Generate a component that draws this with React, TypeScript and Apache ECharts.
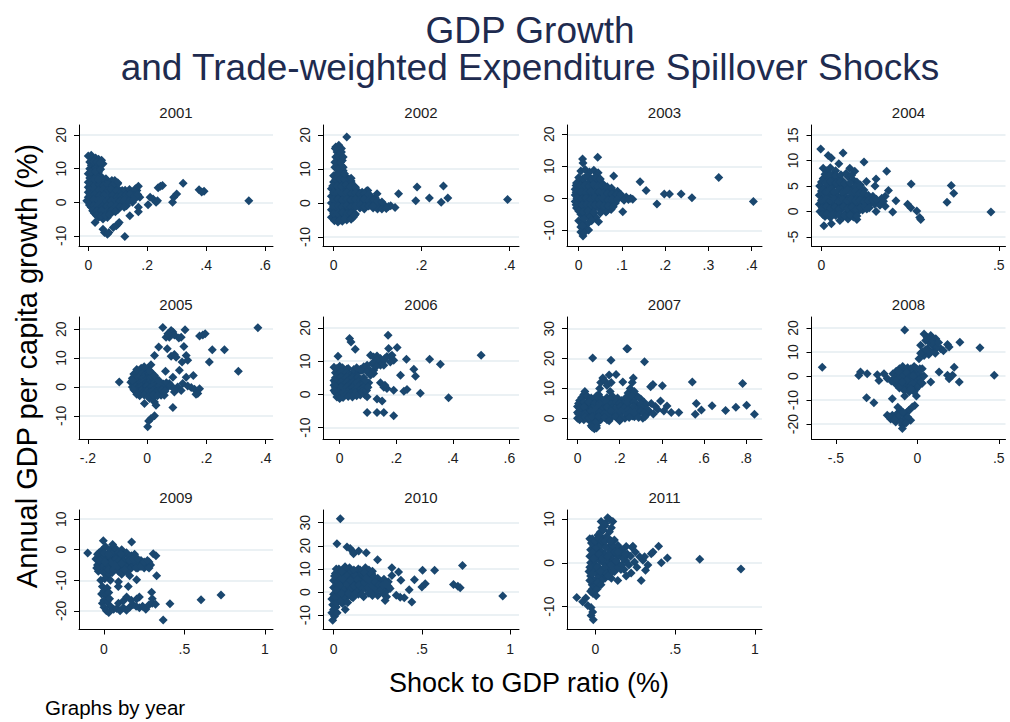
import React, { useEffect, useRef } from 'react';
import * as echarts from 'echarts';

const years = ['2001', '2002', '2003', '2004', '2005', '2006', '2007', '2008', '2009', '2010', '2011'];

const pts2001 = [
[0,13.8],[0.01,14],[0.015,13],[0.025,13.2],[0.035,12.8],[0.045,12.5],[0.05,11.5],[0.005,12],[0.01,11],[0.02,11.5],[0.03,11],[0.005,10],[0.015,9.5],[0.025,10],[0.035,9],[0,8.5],[0.01,8],[0.02,8.5],[0.03,7.8],[0.045,7.5],[0.06,7],[0.08,6.5],[0.09,6],[0.1,5.5],
[0,6],[0.015,6.2],[0.03,5.8],[0.045,6.5],[0.06,5.5],[0.075,5],[0.09,5.2],
[0,4.5],[0.012,4.2],[0.025,4.8],[0.04,4.4],[0.055,4],[0.07,4.3],[0.085,3.8],[0.1,4],[0.115,3.5],
[0,3],[0.015,2.8],[0.03,3.2],[0.045,2.6],[0.06,3],[0.075,2.5],[0.09,2.8],[0.105,2.2],[0.12,2.6],[0.135,3],[0.15,2.5],[0.165,3.5],[0.17,4.8],[0.16,4],
[0,1.5],[0.01,1.2],[0.025,1.6],[0.04,1],[0.055,1.4],[0.07,0.8],[0.085,1.2],[0.1,0.6],[0.115,1],[0.13,1.5],[0.145,1.8],[0.16,1.2],[0.175,1.5],
[-0.005,0.5],[0.01,0],[0.025,-0.3],[0.04,0.2],[0.055,-0.5],[0.07,0],[0.085,-0.3],[0.1,-0.8],[0.115,-0.5],[0.13,-1],[0.15,0],[0.17,-1.5],[0.17,-2.8],
[0.01,-1.5],[0.025,-2],[0.04,-1.8],[0.055,-2.5],[0.07,-2],[0.085,-1.5],[0.1,-2.2],
[0.02,-3.2],[0.035,-3.5],[0.05,-3],[0.065,-3.8],[0.08,-3],
[0.035,-4.5],[0.05,-5],[0.065,-4.5],[0.045,-4],
[0.023,-6],[0.05,-8],[0.055,-9],[0.065,-9.5],[0.07,-9],[0.085,-7.5],[0.095,-7],[0.1,-6.5],[0.105,-6],[0.124,-10.2],[0.141,-4],[0.203,-0.7],[0.21,1.5],[0.22,1],[0.23,0],[0.235,0.5],[0.237,4.3],[0.245,4.8],[0.252,5],[0.286,0],[0.29,1.5],[0.3,2.5],[0.322,5.7],[0.376,3.7],[0.393,3.3],[0.385,3.1],[0.545,0.5],[0.09,6.5],[0.1,5.8],
[0.008,5.3],[0.022,5.1],[0.038,5.3],[0.052,5.0],[0.068,5.4],[0.082,4.9],
[0.006,3.7],[0.02,3.9],[0.035,3.6],[0.05,3.8],[0.065,3.5],[0.078,3.9],[0.095,3.4],[0.11,3.0],[0.125,3.6],[0.14,3.8],[0.155,3.3],
[0.006,2.2],[0.022,2.3],[0.038,2.0],[0.052,2.2],[0.068,1.8],[0.082,2.1],[0.097,1.6],[0.112,1.9],[0.127,2.2],[0.142,2.4],[0.155,1.9],[0.168,2.3],
[0.004,0.7],[0.018,0.9],[0.032,0.5],[0.048,0.7],[0.063,0.3],[0.078,0.5],[0.093,0.2],[0.108,0.3],[0.122,0.6],[0.138,0.4],[0.155,0.8],
[0.004,-0.8],[0.018,-1.0],[0.032,-0.9],[0.048,-1.2],[0.063,-1.1],[0.078,-0.9],[0.093,-1.2],[0.108,-1.4],[0.122,-1.5],
[0.015,-2.5],[0.03,-2.6],[0.045,-2.4],[0.062,-2.9],[0.078,-2.5],[0.092,-2.8],
[0.028,-3.9],[0.042,-4.1],[0.058,-4.0],[0.072,-3.6],
[0.005,7.2],[0.02,7],[0.035,6.8],[0.008,9],[0.025,9.2],[0.018,12.2],[0.03,12],[0.04,11.8],[0.042,9.8]
];

const pts2002 = [
[0.005,16.5],[0.012,17],[0.018,16],[0.008,15],[0.015,14.5],[0.005,13.5],[0.012,13],[0.02,12.5],[0.008,11.5],[0.018,11],[0.003,10.5],[0.012,10],[0.022,9.5],
[0,8],[0.01,8.2],[0.02,7.8],[0.03,7.5],[0.035,7],[0.04,6.5],
[0,6.2],[0.01,5.8],[0.02,6],[0.03,5.5],[0.04,6],[0.045,5],
[-0.005,4.2],[0.005,3.8],[0.015,4],[0.025,4.4],[0.035,3.6],[0.045,4],[0.055,3.5],[0.065,3.2],[0.075,3.5],[0.078,3.7],
[-0.005,2],[0.005,2.4],[0.015,1.8],[0.025,2.2],[0.035,1.6],[0.045,2.4],[0.055,1.8],[0.065,2],[0.075,1.5],[0.085,2],[0.095,1.5],[0.099,2.7],
[-0.005,0],[0.005,0.4],[0.015,-0.3],[0.025,0.2],[0.035,-0.4],[0.045,0.3],[0.055,-0.2],[0.065,0.5],[0.075,-0.3],[0.085,0.2],[0.095,-0.5],[0.105,-0.8],[0.115,-0.5],[0.125,-1],[0.13,-0.8],[0.14,-1.3],
[-0.005,-2],[0.005,-1.6],[0.015,-2.2],[0.025,-1.8],[0.035,-2.4],[0.045,-1.8],[0.06,-1.5],[0.07,-1.8],[0.09,-1.5],[0.1,-1.8],[0.11,-1.8],
[-0.005,-4.2],[0.005,-3.8],[0.015,-4.4],[0.025,-3.6],[0.035,-4],[0.045,-4.2],
[0.002,-5.2],[0.01,-5.6],[0.02,-5.4],[0.03,-5],
[0.03,19.4],[0.148,2.7],[0.19,4.7],[0.187,0.7],[0.218,1.5],[0.25,5],[0.245,0.2],[0.26,1.5],[0.396,1.0],
[0.005,7],[0.015,7.1],[0.025,6.9],[0.04,7.3],
[-0.002,5],[0.008,5.1],[0.018,4.9],[0.028,5.2],[0.038,4.8],[0.05,4.6],
[0,3],[0.01,3.1],[0.02,2.9],[0.03,3.2],[0.04,2.8],[0.05,3],[0.06,2.7],[0.07,2.8],[0.08,2.6],
[0,1],[0.01,1.1],[0.02,0.9],[0.03,1.2],[0.04,0.8],[0.05,1.1],[0.06,0.9],[0.07,1.2],[0.08,0.8],[0.09,1],[0.1,0.6],[0.11,0.3],
[0,-1],[0.01,-0.9],[0.02,-1.2],[0.03,-0.8],[0.04,-1.1],[0.05,-0.9],[0.06,-0.6],[0.07,-1],[0.08,-0.9],[0.09,-0.8],[0.12,-1.6],
[0,-3],[0.01,-3.1],[0.02,-2.8],[0.03,-3.2],[0.04,-2.9],[0.05,-3.2],
[0.015,-5],[0.025,-4.6],[0.04,-4.8],[0.048,-3.6],
[0.003,12],[0.016,12],[0.022,13.5],[0.004,16],[0.018,15],[0.022,10.5],[0.01,9],[0.025,8.6]
];

const pts2003 = [
[0.009,12.3],[0.01,11],[0.044,12.8],[0.005,8.5],[0.015,9],[0.025,8.2],[0.035,8.8],[0.045,8],[0.02,7.2],[0.04,7],[0.081,7],
[-0.005,4.8],[0.005,5.2],[0.015,4.6],[0.025,5],[0.035,4.4],[0.045,5.2],[0.055,4.6],[0.06,3.8],
[-0.008,2.8],[0.002,3.2],[0.012,2.6],[0.022,3],[0.032,2.5],[0.042,3.2],[0.052,2.8],[0.062,2.2],[0.072,2.5],[0.082,1.8],[0.09,2.2],
[-0.008,1],[0.002,0.6],[0.012,1.2],[0.022,0.8],[0.032,1.4],[0.042,0.6],[0.052,1],[0.062,0.4],[0.072,0.8],[0.082,0.2],[0.092,0.6],[0.1,0.2],[0.11,0.4],[0.12,0],[0.125,-0.3],
[-0.008,-1],[0.002,-1.4],[0.012,-0.8],[0.022,-1.2],[0.032,-0.6],[0.042,-1.4],[0.052,-1],[0.062,-1.6],[0.072,-1.2],[0.085,-1.5],
[-0.005,-3],[0.005,-2.6],[0.015,-3.2],[0.025,-2.8],[0.035,-3.4],[0.045,-2.8],[0.055,-3.2],[0.065,-4],[0.075,-3.5],
[0.063,-4.3],[0.102,-4.2],[0.005,-5],[0.015,-5.5],[0.03,-5],[0.04,-6],[0.046,-7.3],[0,-7],[0.01,-7.5],[0.02,-8],[0.005,-9],[0.015,-9.5],[0.023,-9.9],[0.005,-10.5],[0.01,-11.8],[0.012,-10.8],
[0.142,5.2],[0.156,2.4],[0.181,-1.8],[0.198,1.35],[0.21,1.35],[0.237,1.35],[0.262,0.2],[0.324,6.5],[0.404,-1.0],
[0,6.5],[0.01,6.2],[0.02,6.6],[0.03,6],[0.04,6.3],[0.05,6],
[-0.006,4],[0.004,3.9],[0.014,4.1],[0.024,3.8],[0.034,4.2],[0.044,3.8],[0.054,4],[0.066,3.6],[0.076,3.2],
[-0.006,1.9],[0.006,2],[0.017,1.8],[0.027,2.1],[0.037,1.7],[0.047,2],[0.057,1.6],[0.067,1.5],[0.077,1.4],[0.087,1.2],[0.097,1.3],
[-0.004,0],[0.007,-0.2],[0.017,0.1],[0.027,-0.3],[0.037,0.2],[0.047,-0.3],[0.057,0],[0.067,-0.5],[0.077,-0.2],[0.09,-0.4],[0.105,-0.6],[0.115,-0.4],
[-0.006,-2],[0.008,-2.2],[0.018,-1.9],[0.028,-2.1],[0.038,-2.2],[0.048,-2],[0.058,-2.4],[0.068,-2.3],[0.08,-2.6],
[0,-4],[0.01,-4.2],[0.022,-4],[0.035,-4.4],[0.05,-4.6],[0.025,-6],[0.012,-6.5],[0.03,-7],[0.008,-8.5]
];

const pts2004 = [
[-0.002,12.3],[0.019,11],[0.028,10.5],[0.061,11.5],[0.049,9.4],[0.12,9.7],[0.08,8.5],[0.094,7.9],[0.184,7.9],[0.154,6.4],[0.151,5],[0.127,5.9],[0.253,5.4],[0.366,5.1],[0.373,3.6],[0.354,1.8],[0.478,-0.1],[0.189,4.1],[0.21,2.1],[0.201,-0.1],[0.243,1.4],[0.252,0.7],[0.269,0.1],[0.277,-1.2],[0.28,-1.6],[0.154,0],[0.007,-2.8],[0.028,-2.4],[0.052,-1.8],
[0.005,8.5],[0.015,8],[0.025,8.6],[0.035,7.5],[0.04,8],
[0.005,6.5],[0.018,6.8],[0.03,6.2],[0.045,6.6],[0.06,6],[0.075,6.8],[0.09,6.2],[0.1,5.8],
[-0.005,5],[0.008,4.6],[0.02,5.2],[0.032,4.8],[0.045,5.2],[0.058,4.6],[0.07,5],[0.083,4.4],[0.095,5],[0.108,4.6],[0.12,4.2],
[-0.006,3.2],[0.006,2.8],[0.018,3.4],[0.03,2.9],[0.042,3.3],[0.054,2.7],[0.066,3.1],[0.078,2.6],[0.09,3.2],[0.102,2.8],[0.114,3],[0.126,2.4],[0.14,2.2],[0.16,1.8],[0.17,2.6],[0.18,3],
[-0.006,1.4],[0.006,1.8],[0.018,1.2],[0.03,1.6],[0.042,1.0],[0.054,1.6],[0.066,1.2],[0.078,1.8],[0.09,1.2],[0.102,1.6],[0.114,1.0],[0.126,1.4],[0.138,1.6],[0.15,1.4],[0.165,1.2],[0.18,1.0],
[-0.004,0],[0.008,0.3],[0.02,-0.3],[0.032,0.2],[0.044,-0.2],[0.056,0.4],[0.068,-0.4],[0.08,0.1],[0.092,-0.5],[0.104,0],[0.116,0.3],[0.128,0.5],
[0.01,-1],[0.025,-1.2],[0.04,-0.8],[0.06,-1.2],[0.075,-1.5],[0.09,-1.1],[0.1,-1.6],
[0.01,7.3],[0.025,7.2],[0.04,7],[0.055,7.2],[0.07,7.5],[0.085,7.1],
[0,5.8],[0.013,5.6],[0.026,5.9],[0.04,5.6],[0.052,5.8],[0.065,5.5],[0.08,5.6],[0.11,5.2],
[0,4],[0.012,3.8],[0.024,4.1],[0.036,3.8],[0.048,4.2],[0.06,3.7],[0.072,4.1],[0.084,3.6],[0.096,4],[0.108,3.6],[0.12,3.6],[0.132,3.2],[0.145,3],
[0,2.2],[0.012,2.4],[0.024,2.1],[0.036,2.4],[0.048,2],[0.06,2.3],[0.072,2],[0.084,2.4],[0.096,2.1],[0.108,2.2],[0.12,1.9],[0.132,2.1],[0.145,2.3],[0.155,2.4],[0.175,2],
[0.002,0.7],[0.014,0.9],[0.026,0.6],[0.038,0.8],[0.05,0.5],[0.062,0.9],[0.074,0.6],[0.086,0.8],[0.098,0.4],[0.11,0.7],[0.122,0.9],[0.135,0.7],
[0.004,-0.6],[0.016,-0.5],[0.03,-0.7],[0.05,-0.6],[0.065,-0.8],[0.08,-0.7],[0.1,-0.9]
];

const pts2005 = [
[-0.094,1.7],[0.053,20.6],[0.081,19.5],[0.087,19],[0.092,18],[0.075,17.2],[0.064,17.2],[0.07,18.4],[0.107,16.9],[0.115,17.2],[0.128,19.8],[0.177,17.6],[0.188,18],[0.196,18.4],[0.374,20.5],
[0.039,13.8],[0.068,13.2],[0.124,14],[0.025,10.9],[0.081,10.6],[0.092,11.2],[0.098,10.3],[0.132,10.9],[0.137,9.2],[0.118,8.6],[0.013,7.7],[0.22,12.9],[0.261,12.9],[0.21,8.6],[0.308,5.4],
[0.062,5.4],[0.109,5.8],[0.087,3.4],[0.132,3.4],[0.156,4.0],[0.12,1.2],[0.137,0.3],[0.103,0],[0.115,-1.2],[0.149,-0.2],[0.16,-0.8],[0.177,-0.6],[0.171,-2.3],[0.165,-2.5],[0.092,-1.7],[0.075,1.2],[0.058,-2.9],[0.047,-2.9],
[0.025,-5.2],[0.03,-6.3],[-0.009,-5.7],[0.087,-7.1],[0.025,-10],[0.013,-10.9],[0.005,-11.8],[0.002,-13.8],[0.008,-4.0],[0.019,-4.0],
[-0.02,6.5],[-0.01,6],[0,6.3],[-0.03,5.5],
[-0.045,4.5],[-0.035,4.8],[-0.025,4.4],[-0.015,4.6],[-0.005,4.2],[0.005,4.5],[0.015,4.8],
[-0.05,3],[-0.04,2.8],[-0.03,3.2],[-0.02,2.6],[-0.01,3],[0,2.8],[0.01,3.2],[0.02,2.6],[0.03,3],
[-0.055,1.6],[-0.045,1.4],[-0.035,1.8],[-0.025,1.2],[-0.015,1.6],[-0.005,1.2],[0.005,1.6],[0.015,1.2],[0.025,1.6],[0.035,1.2],[0.045,1.5],
[-0.05,0],[-0.04,0.3],[-0.03,-0.3],[-0.02,0.2],[-0.01,-0.2],[0,0.3],[0.01,-0.3],[0.02,0.2],[0.03,-0.2],[0.04,0.3],[0.05,-0.2],[0.06,0.2],[0.07,0],
[-0.04,-1.4],[-0.03,-1.8],[-0.02,-1.2],[-0.01,-1.6],[0,-1.3],[0.01,-1.8],[0.02,-1.4],[0.03,-1.8],[0.04,-1.3],
[-0.025,-3],[-0.01,-2.8],[0.005,-3.2],[0.02,-2.7],[0.035,-3],
[-0.035,6],[-0.01,7],[0.01,5.5],[0.025,4],[0.04,2.2],[0.055,1],[0.065,1.5],[0.05,-1],[0.06,-1.5],[-0.045,-1],[-0.035,-2.5],[-0.05,2.2],[0.08,0.5],[0.09,-0.5]
];

const pts2006 = [
[-0.02,8.2],[-0.01,7.8],[0,8.5],[0.01,8],[0.025,7.6],[0.03,7.8],
[-0.015,6.5],[-0.005,6.2],[0.005,6.8],[0.015,6.3],[0.025,6.6],[0.035,6],[0.045,6.4],[0.055,6.2],[0.065,6.8],[0.075,7.2],[0.085,7.5],
[-0.015,5],[-0.005,4.6],[0.005,5.2],[0.015,4.8],[0.025,5.2],[0.035,4.6],[0.045,5],[0.055,4.5],[0.065,5.2],[0.075,4.6],[0.085,5],
[-0.015,3.5],[-0.005,3.2],[0.005,3.8],[0.015,3.3],[0.025,3.7],[0.035,3.1],[0.045,3.6],[0.055,3.2],[0.065,3.6],[0.075,3],[0.085,3.4],[0.095,2.8],
[-0.015,2],[-0.005,1.6],[0.005,2.2],[0.015,1.8],[0.025,2.2],[0.035,1.6],[0.045,2],[0.055,1.5],[0.065,2.1],[0.075,1.7],[0.085,2.2],
[-0.015,0.5],[-0.005,0.8],[0.005,0.2],[0.015,0.6],[0.025,0],[0.04,0.4],[0.055,0.6],[0.07,0.2],[0.08,0.8],[0.09,-0.2],[0.097,-0.7],[0.073,-0.2],
[-0.01,-0.8],[0,-1.2],[0.012,-0.9],[0.03,-0.6],[0.045,-0.8],
[0.109,11.8],[0.12,11.3],[0.132,11.6],[0.144,10.8],[0.156,10.3],[0.167,11.4],[0.179,11.4],[0.191,10.3],[0.179,9.8],[0.144,9.8],[0.132,10.3],[0.115,9.3],[0.097,8.8],[0.085,8.3],[0.079,7.3],[0.073,7.6],[0.103,7.6],[0.12,7.3],[0.144,8.8],[0.156,8.8],[0.12,6.3],[0.13,8.5],[0.16,10.8],[0.185,11.8],
[0.097,6.8],[0.103,3.5],[0.109,5.8],
[0.035,16.8],[0.04,15.8],[0.171,17.8],[0.055,13.6],[0.173,13.8],[0.203,14.1],[-0.006,11.5],[0.097,-5.4],[0.132,-5.4],[0.156,-5.4],[0.191,-6.4],[0.132,-1.4],[0.15,-2.0],[0.144,3.5],[0.156,2.2],[0.167,1.8],[0.16,2.8],[0.191,1.3],[0.215,5.8],[0.236,10.6],[0.227,1.0],[0.238,1.5],[0.262,7.6],[0.268,5.5],[0.285,0.4],[0.318,10.6],[0.356,9.1],[0.385,-1.0],[0.5,11.8],
[0.05,7.5],[0.06,8],[-0.02,4.2],[-0.02,2.8],[-0.02,1.2],[0.09,4.2],[0.095,1.2],[0.1,2.2],[0.06,-0.4]
];

const pts2007 = [
[0,4],[0,2],[0,0],[0.01,6],[0.02,3],[0.02,1],[0.03,8],[0.035,9],[0.04,5],[0.04,2.5],[0.045,0],[0.05,7],[0.055,3.5],[0.06,1.5],[0.06,-1],[0.07,5.5],[0.075,2],[0.075,-2],[0.08,-3.5],[0.085,0],[0.09,4],[0.09,-2.5],[0.095,1.5],[0.1,6],[0.1,-1],
[0.11,3],[0.12,0.5],[0.12,5],[0.13,2],[0.14,7],[0.14,-0.5],[0.15,3.5],[0.16,1],[0.17,5.5],[0.175,2.5],[0.19,0],[0.19,4],[0.2,1.5],[0.21,6],[0.215,2.5],[0.225,0],[0.23,4],[0.24,1.5],[0.25,6],[0.26,3],[0.27,0.5],[0.28,4.5],[0.29,2],[0.3,6.5],[0.31,0],[0.32,3],[0.33,1.5],
[0.1,8],[0.105,10],[0.11,12],[0.12,13.5],[0.13,12.5],[0.14,11],[0.15,14.5],[0.155,9],[0.16,12],[0.165,7.5],
[0.24,8.5],[0.25,10],[0.26,12],[0.265,13.5],[0.27,9],[0.28,7.5],
[0.02,5],[0.03,-0.5],[0.05,1],[0.065,4],[0.085,6.5],[0.11,-0.5],[0.13,4],[0.17,1],[0.2,3],[0.22,5],[0.26,0.8],[0.29,4],[0.34,2.5],[0.36,1.5],[0.37,4],[0.35,5],
[0.072,20.2],[0.159,19.4],[0.183,14.7],[0.234,23.3],[0.238,23.3],[0.215,12.2],[0.318,18.9],[0.347,10.6],[0.358,11.3],[0.403,10.9],[0.394,5.8],[0.425,4.1],[0.481,2.0],[0.445,2],[0.41,2.5],[0.38,3],
[0.545,12.2],[0.564,5],[0.559,1.4],[0.588,2.8],[0.639,4.2],[0.703,2.6],[0.752,3.7],[0.784,11.7],[0.803,4.4],[0.84,1.4],
[0.02,7],[0.045,7.5],[0.065,6.8],[0.09,7.5],[0.115,6.5],[0.155,6.5],[0.19,6.8],[0.23,7],[0.26,7.5],[0.29,7],[0.315,5.5],
[0.005,5],[0.03,5.5],[0.055,5.5],[0.08,5],[0.105,5],[0.135,5.5],[0.16,4.8],[0.185,5.5],[0.2,5],[0.24,5],[0.27,5.5],[0.3,4.8],[0.325,4.5],
[0.01,3.5],[0.03,3.8],[0.07,3.5],[0.1,3.8],[0.12,3],[0.14,3.8],[0.165,3.5],[0.18,3.2],[0.205,4],[0.22,3.5],[0.245,3.2],[0.265,4],[0.28,2.8],[0.305,3.5],[0.33,3],
[0.005,1.5],[0.035,1.5],[0.065,2.5],[0.085,2.8],[0.105,2],[0.125,1.5],[0.145,2],[0.16,2.5],[0.185,1.8],[0.205,2.2],[0.23,2],[0.25,2.2],[0.275,1.8],[0.3,2.5],[0.315,1.8],
[0.01,-0.5],[0.035,0.5],[0.055,0],[0.07,0.5],[0.1,0.5],[0.13,0.3],[0.155,0],[0.18,0.5],[0.21,0.2],[0.245,0.3],[0.29,0.3],[0.32,0.5],[0.2,-0.8],[0.15,-0.8],
[0.065,-2.5],[0.085,-1.5],[0.07,-3],[0.09,-3.2]
];

const pts2008 = [
[-0.584,3.7],[-0.078,19.2],
[0.041,17.5],[0.082,16.9],[0.113,15.5],[0.02,12.8],[0.062,11.4],[0.103,10.7],[0.041,8.6],[0.01,7.2],[0.144,11.4],[0.185,13.1],[0.195,12.1],[0.261,14.1],[0.384,11.8],[0.072,14.1],[0.092,12.8],[0.051,14.8],[0.03,10],[0.07,9],[0.09,15],
[-0.36,0.2],[-0.349,1.7],[-0.308,1],[-0.246,0.6],[-0.236,-1.8],[-0.205,1],[-0.185,-1],
[0.082,-2.5],[0.133,1.7],[0.185,0.3],[0.195,-1.1],[0.216,0.3],[0.226,3.7],[0.257,-2.5],[0.472,0.3],
[-0.312,-9],[-0.267,-11.1],[-0.154,-9.4],[-0.078,-8.3],[-0.006,-8.3],[-0.016,-12.2],
[-0.185,-16.3],[-0.164,-17.9],[-0.123,-17.6],[-0.103,-14.2],[-0.072,-16.3],[-0.051,-14.2],[-0.041,-18.4],[-0.092,-20.4],[-0.092,-21.8],[-0.133,-19.1],[-0.154,-16.3],[-0.061,-14.9],[-0.031,-12.9],[-0.123,-15.6],
[-0.15,1],[-0.14,-1],[-0.13,2],[-0.12,-3],[-0.12,0.5],[-0.11,3],[-0.1,-1.5],[-0.1,1.5],[-0.09,-4],[-0.09,4],[-0.08,-1],[-0.08,2],[-0.07,-3],[-0.07,0],[-0.06,3.5],[-0.06,-5],[-0.05,-2],[-0.05,1],[-0.04,-4],[-0.04,3],[-0.03,-1],[-0.03,1.5],[-0.02,-3],[-0.02,4],[-0.01,0],[-0.01,-5.5],[0,2],[0,-2],[0.01,-4],[0.01,1],[0.02,-1],[0.03,3],[0.03,-3],[-0.13,-3.5],[-0.11,-5],[-0.08,-6],[-0.05,-6.5],[-0.16,-2],
[-0.145,-1.8],[-0.125,-1.5],[-0.105,0],[-0.085,0.5],[-0.065,1.5],[-0.045,-0.5],[-0.025,0],[-0.005,3],[0.015,3],[0.02,-2.5],[-0.035,-2.8],[-0.065,-1.8],[-0.095,-2.5],[-0.115,1.8],[0.04,0],[-0.02,-6.5],[-0.04,-5.5],
[0.06,16],[0.1,13],[0.12,12],[0.05,11],[0.08,10],[0.11,9.5],[0.02,9.5],[0.13,14],[0.16,10.5],
[-0.17,-17],[-0.14,-18],[-0.11,-16.5],[-0.08,-18],[-0.06,-17],[-0.1,-19],[-0.07,-19.5],[-0.12,-13],[-0.09,-15]
];

const pts2009 = [
[-0.05,-3],[-0.04,-5],[-0.03,-1],[-0.02,-4],[-0.02,-6.5],[-0.01,0],[-0.01,-2.5],[0,-5],[0,-7.5],[0.01,1],[0.01,-3],[0.02,-1.5],[0.02,-6],[0.03,-4],[0.04,0],[0.04,-2.5],[0.05,-5.5],[0.05,-7.5],[0.06,-3.5],[0.06,-1],[0.07,0.5],[0.07,-6],[0.08,-2.5],[0.08,-4.5],[0.09,-1],[0.09,-7],[0.1,-3],[0.1,-5],[0.11,0],[0.11,-8],[0.12,-2],[0.12,-6],[0.13,-4],[0.14,-1],[0.14,-7],[0.15,-3],[0.15,-5],[0.16,-8.5],[0.17,-2],[0.18,-5],[0.19,-1.5],[0.2,-4.5],[0.21,-6],[0.22,-5],[0.24,-4.5],[0.26,-5],[0.27,-5.5],[0.28,-4],[0.02,-8.5],[0.005,-9.5],[0.04,-10],
[-0.02,-10],[-0.01,-12],[0,-13.5],[-0.015,-14.5],[0.01,-15],[0.02,-12.5],[0,-16.5],[0.02,-17],[0.03,-14],[0.035,-16],[-0.01,-17.5],[0.04,-18.5],
[0,-18.8],[0.015,-20],[0.03,-20.5],[0.06,-19.5],[0.08,-19.2],[0.1,-20],[0.12,-19],[0.14,-19.8],[0.16,-18.8],[0.18,-18],[0.2,-18.5],[0.22,-19],[0.24,-18.5],[0.26,-19.5],[0.28,-18],[0.3,-17.5],[0.32,-17.8],[0.09,-17.5],[0.12,-16.8],[0.17,-16.5],[0.22,-15.5],
[-0.101,-1.1],[-0.004,2.9],[0.172,2.5],[0.054,1.7],[0.306,-1.3],[0.323,-2],[0.327,-8.5],[0.203,-9.8],[0.151,-12],[0.089,-12],[0.368,-23],[0.41,-17.7],[0.603,-16.4],[0.727,-14.8],[0.141,-15.5],[0.203,-16.1],[0.296,-13.9],[0.3,-16],[0.09,-10.5],
[-0.04,-1.5],[-0.035,-7],[-0.03,-3.5],[0,-1],[0.015,-4.5],[0.03,-6.5],[0.03,-1.5],[0.045,-4],[0.06,-6.5],[0.075,-3],[0.085,-5.5],[0.095,-3.5],[0.105,-1.5],[0.12,-4],[0.135,-5.5],[0.16,-3.5],[0.17,-6],[0.19,-4],[0.23,-3.5],[0.25,-6],[0.29,-5],
[0.16,-6.5],[0.18,-3],[0.2,-6],[0.21,-3],[0.23,-5.5],[0.25,-4],[0.27,-3.5],[0.28,-6],[0.13,-6.5],[0.11,-4.5],[-0.045,-6],[0.005,-4],[0.065,-5]
];

const pts2010 = [
[0.038,31.7],[0.019,20.9],[0.076,19.5],[0.094,18.8],[0.11,17.4],[0.113,16.6],[0.142,17.8],[0.185,17],[0.249,14],[0.33,10.5],[0.33,7.2],[0.368,8.7],[0.381,5.1],[0.428,1.0],[0.458,5.3],[0.443,-4.3],[0.355,-1.4],[0.377,-2.2],[0.4,-2.5],[0.504,9.4],[0.5,2.2],[0.519,3.6],[0.572,9.4],[0.679,3.3],[0.704,2.5],[0.717,1.9],[0.73,11.5],[0.958,-1.7],[0.292,-3.6],[0.066,-7.6],
[0,5],[0,2],[0,-1],[0.01,8],[0.02,3.5],[0.02,0],[0.03,10],[0.03,6],[0.04,-2],[0.04,2],[0.05,7.5],[0.05,4],[0.06,0],[0.06,-3],[0.07,9],[0.07,5.5],[0.08,2],[0.08,-1.5],[0.09,10.5],[0.09,7],[0.1,3.5],[0.1,0],[0.11,5.5],[0.11,-2.5],[0.12,9],[0.12,1.5],[0.13,7],[0.13,3.5],[0.14,-1],[0.14,10],[0.15,5],[0.15,1],[0.16,8],[0.16,3],[0.17,-2],[0.17,6],[0.18,1.5],[0.18,10.5],[0.19,4],[0.2,7.5],[0.2,-0.5],[0.21,2.5],[0.22,5.5],[0.22,9],[0.23,0.5],[0.24,3.5],[0.25,-1.5],[0.25,6],[0.26,1.5],[0.27,4],[0.28,-0.5],[0.29,2.5],[0.3,0.5],[0.31,4.5],[0.32,1.5],[0.02,-4],[0.05,-5],[0.035,8.5],[0.065,11],[0.1,8.8],[0.15,9.5],[0.2,9.5],
[-0.01,-3],[-0.005,-5.5],[0,-7.5],[-0.01,-9],[0.005,-10.5],[-0.005,-12.2],[0.015,-6.5],[0.02,-9],
[0.005,7],[0.015,10],[0.025,4.5],[0.045,9],[0.055,1.5],[0.065,-1.5],[0.075,7],[0.085,4],[0.095,1.5],[0.105,6],[0.115,9.5],[0.125,4.5],[0.135,1],[0.145,7],[0.155,3],[0.165,5],[0.175,8.5],[0.185,3.5],[0.195,6.5],[0.205,1],[0.215,8],[0.23,6.5],[0.245,1],[0.26,4.5],[0.275,2],[0.285,5.5],[0.31,2.5],[0.3,-2],[0.1,-2],[0.04,5.5],[0.01,-2.5],[0.03,-1],
[0.015,1],[0.035,3],[0.045,-0.5],[0.055,5.5],[0.075,3.5],[0.085,-0.5],[0.095,5],[0.115,2.5],[0.125,7],[0.135,5.5],[0.145,3],[0.165,1.5],[0.175,4],[0.185,6],[0.195,2],[0.21,4.5],[0.225,2.5],[0.235,4.5],[0.255,3],[0.27,1],[0.28,3],[0.3,3.5],[0.015,-5],[0.04,-4],[0.08,-4.5],[0.12,-1],[0.16,-1],[0.22,-1.5]
];

const pts2011 = [
[0.077,10.3],[0.036,9.4],[0.109,9.4],[0.06,8.5],[0.1,8],[0.088,7.1],[0.015,6.3],[0.046,5.6],[0.119,5.2],
[-0.117,-7.9],[-0.08,-8.9],[-0.048,-9.7],[-0.027,-10.2],[-0.017,-11.2],[-0.027,-12],[-0.013,-13],[-0.06,-8],
[0.151,3.3],[0.193,3.7],[0.235,3.8],[0.224,-2.3],[0.193,-3.0],[0.14,-4],[0.287,-4.0],[0.314,-1.7],[0.329,-0.5],[0.298,0.6],[0.308,1.4],[0.277,1.4],[0.35,2.1],[0.361,2.5],[0.396,3.8],[0.413,0],[0.451,1.1],[0.654,0.8],[0.912,-1.4],[0.245,0.2],
[-0.03,3],[-0.03,0],[-0.03,-3],[-0.02,1.5],[-0.02,-5],[-0.01,4],[-0.01,-1.5],[0,2.5],[0,-0.5],[0,-4],[0,-6],[0.01,5],[0.01,1],[0.01,-2.5],[0.02,3.5],[0.02,-1],[0.02,-5],[0.03,0.5],[0.03,6],[0.035,-3],[0.04,2.5],[0.045,-1.5],[0.05,4.5],[0.05,0],[0.06,-3.5],[0.06,2],[0.07,6],[0.07,-1],[0.08,3.5],[0.08,0.5],[0.09,-2],[0.09,5],[0.1,1.5],[0.1,-3.5],[0.11,3.5],[0.12,0],[0.12,-2],[0.13,2],[0.14,4],[0.15,-0.5],[0.16,1.5],[0.17,3],[0.18,-1.5],[0.19,0.5],[0.2,2],[0.21,-0.5],[0.22,1.5],[0.23,3.5],[0.25,2.5],[0.26,-1],[-0.04,-2],[-0.015,-7],[0.005,-7.5],
[-0.025,4.5],[-0.025,-1.5],[-0.015,2.5],[-0.005,0.5],[0.005,3.5],[0.015,-3.5],[0.025,2],[0.035,4],[0.045,1],[0.055,-2],[0.065,3.5],[0.075,1.5],[0.085,-0.5],[0.095,2.5],[0.105,4],[0.115,0.5],[0.125,2.5],[0.135,-1],[0.145,1.5],[0.155,2.5],[0.165,-0.5],[0.175,1],[0.185,2],[0.03,7],[0.05,7.5],[0.06,9],[0.04,8],[0.09,9.8],[-0.01,-4],[0.005,-5],
[-0.035,5.5],[-0.02,5.5],[0,5],[0.02,5.5],[0.04,5],[0.06,5],[0.08,5.5],[0.1,5],
[-0.035,1.5],[-0.035,-1],[-0.035,-4],[-0.02,-2.5],[-0.01,1],[0.01,-1],[0.03,-2],[0.04,-4],[0.06,-1],[0.07,-2.5],[0.08,-3],[0.1,-0.5],[0.11,-2],[0.13,0.5],[0.14,2.5],[0.16,-1.5],[-0.02,-6],[-0.03,-6.5],[0.01,-6],[0.015,-4.5],[0.035,-5]
];

const xTicks = [
  [0, 0.2, 0.4, 0.6], [0, 0.2, 0.4], [0, 0.1, 0.2, 0.3, 0.4], [0, 0.5],
  [-0.2, 0, 0.2, 0.4], [0, 0.2, 0.4, 0.6], [0, 0.2, 0.4, 0.6, 0.8], [-0.5, 0, 0.5],
  [0, 0.5, 1], [0, 0.5, 1], [0, 0.5, 1]
];
const yTicks = [
  [-10, 0, 10, 20], [-10, 0, 10, 20], [-10, 0, 10, 20], [-5, 0, 5, 10, 15],
  [-10, 0, 10, 20], [-10, 0, 10, 20], [0, 10, 20, 30], [-20, -10, 0, 10, 20],
  [-20, -10, 0, 10], [-10, 0, 10, 20, 30], [-10, 0, 10]
];
const xRanges = [
  [-0.0315, 0.627], [-0.024, 0.422], [-0.027, 0.424], [-0.028, 0.519],
  [-0.23, 0.425], [-0.059, 0.634], [-0.05, 0.876], [-0.65, 0.541],
  [-0.155, 1.05], [-0.06, 1.05], [-0.178, 1.044]
];
const yRanges = [
  [-13, 23], [-12.65, 22.95], [-14.9, 22.9], [-6.8, 17],
  [-18, 24.2], [-13.4, 23.3], [-6.9, 33.9], [-26.2, 24.6],
  [-26.1, 13], [-16.2, 35.5], [-15.2, 12.05]
];
const panelData = [pts2001, pts2002, pts2003, pts2004, pts2005, pts2006, pts2007, pts2008, pts2009, pts2010, pts2011];

const titleLines = ['GDP Growth', 'and Trade-weighted Expenditure Spillover Shocks'];
const yTitle = 'Annual GDP per capita growth (%)';
const xTitle = 'Shock to GDP ratio (%)';
const noteText = 'Graphs by year';

const FONT = '"Liberation Sans", Arial, Helvetica, sans-serif';
const colLeft = [79, 323, 567, 811.5];
const colWidth = [194, 196, 195, 194];
const rowTop = [125, 317, 510];
const rowHeight = [121, 122, 119.5];
const MARKER = '#1a476f';
const TEXT = '#1c1c1c';

const fmtX = (v: number) => {
  if (Math.abs(v) < 1e-9) return '0';
  const s = String(Math.round(v * 1000) / 1000);
  return s.replace(/^(-?)0\./, '$1.');
};

export default function App() {
  const ref = useRef<HTMLDivElement>(null);
  useEffect(() => {
    if (!ref.current) return;
    const chart = echarts.init(ref.current, null, { renderer: 'svg' });
    const grids: any[] = [];
    const xAxes: any[] = [];
    const yAxes: any[] = [];
    const series: any[] = [];
    const graphics: any[] = [];
    years.forEach((yr, i) => {
      const c = i % 4;
      const r = Math.floor(i / 4);
      grids.push({
        left: colLeft[c], top: rowTop[r], width: colWidth[c], height: rowHeight[r],
        containLabel: false, outerBoundsMode: 'none', show: false,
      });
      xAxes.push({
        type: 'value', gridIndex: i, min: xRanges[i][0], max: xRanges[i][1],
        axisLine: { show: true, onZero: false, lineStyle: { color: '#000', width: 1 } },
        axisTick: { show: true, length: 5, customValues: xTicks[i], lineStyle: { color: '#000', width: 1 } },
        axisLabel: { show: true, customValues: xTicks[i], formatter: fmtX, fontSize: 14, color: TEXT, fontFamily: FONT, margin: 12 },
        splitLine: { show: false },
      });
      yAxes.push({
        type: 'value', gridIndex: i, min: yRanges[i][0], max: yRanges[i][1],
        axisLine: { show: true, onZero: false, lineStyle: { color: '#000', width: 1 } },
        axisTick: { show: true, length: 5, customValues: yTicks[i], lineStyle: { color: '#000', width: 1 } },
        axisLabel: { show: true, customValues: yTicks[i], rotate: 90, fontSize: 14, color: TEXT, fontFamily: FONT, margin: 11.5 },
        splitLine: { show: true, lineStyle: { color: '#e4edf1', width: 1.5 } },
      });
      series.push({
        type: 'scatter', xAxisIndex: i, yAxisIndex: i, data: panelData[i],
        symbol: 'diamond', symbolSize: 9, itemStyle: { color: MARKER, opacity: 1 },
        silent: true,
      });
      graphics.push({
        type: 'text', x: colLeft[c] + colWidth[c] / 2, y: rowTop[r] - 12.5,
        style: { text: yr, fontSize: 15, fontFamily: FONT, fill: TEXT, align: 'center', verticalAlign: 'middle' },
      });
    });
    graphics.push({
      type: 'text', x: 530, y: 30,
      style: { text: titleLines[0], fontSize: 37, fontFamily: FONT, fill: '#1e2b4f', align: 'center', verticalAlign: 'middle' },
    });
    graphics.push({
      type: 'text', x: 530, y: 67,
      style: { text: titleLines[1], fontSize: 37, fontFamily: FONT, fill: '#1e2b4f', align: 'center', verticalAlign: 'middle' },
    });
    graphics.push({
      type: 'text', x: 27, y: 366, rotation: Math.PI / 2,
      style: { text: yTitle, fontSize: 29, fontFamily: FONT, fill: '#000', align: 'center', verticalAlign: 'middle' },
    });
    graphics.push({
      type: 'text', x: 529, y: 683,
      style: { text: xTitle, fontSize: 27, fontFamily: FONT, fill: '#000', align: 'center', verticalAlign: 'middle' },
    });
    graphics.push({
      type: 'text', x: 45, y: 707,
      style: { text: noteText, fontSize: 20.5, fontFamily: FONT, fill: '#000', align: 'left', verticalAlign: 'middle' },
    });
    chart.setOption({
      animation: false,
      backgroundColor: '#ffffff',
      grid: grids,
      xAxis: xAxes,
      yAxis: yAxes,
      series,
      graphic: graphics,
    });
    return () => chart.dispose();
  }, []);
  return <div ref={ref} style={{ position: 'absolute', left: 0, top: 0, width: 1010, height: 722, background: '#fff' }} />;
}
